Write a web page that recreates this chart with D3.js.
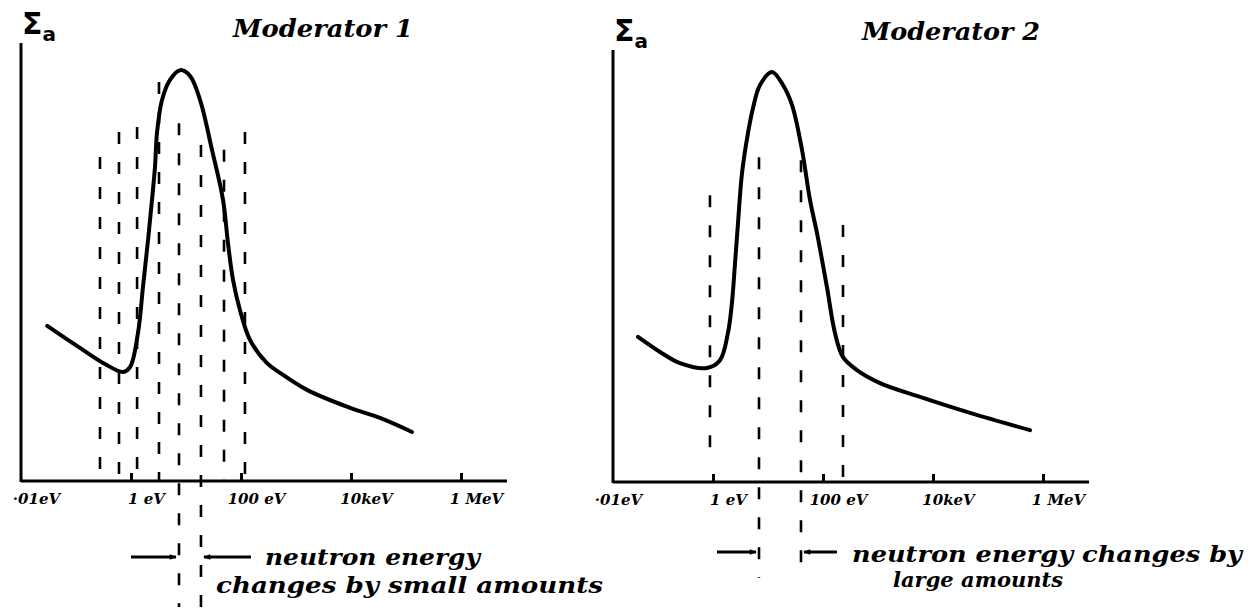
<!DOCTYPE html>
<html>
<head>
<meta charset="utf-8">
<script src="https://cdn.jsdelivr.net/npm/d3@7"></script>
<style>
  body { margin: 0; background: #fff; }
  text { fill: #000; }
</style>
</head>
<body>
<script>
// tick energies (eV) and their hand-written labels
const tickEnergies = [0.01, 1, 100, 1e4, 1e6];
const tickLabels = ['·01eV', '1 eV', '100 eV', '10keV', '1 MeV'];

// Moderator 1: absorption cross-section curve (energy in eV, sigma in arbitrary units 0..100)
const mod1Energy = [0.030, 0.118, 0.337, 0.716, 0.96, 1.34, 1.65, 2.04, 2.41, 2.73, 2.97, 3.66, 5.12, 7.78,
    11.8, 18.0, 29.7, 47.1, 58.0, 71.6, 95.9, 146, 297, 512, 1585, 9590, 33650, 128500];
const mod1Sigma = [35.4, 30.4, 26.7, 24.9, 26.0, 33.8, 44.3, 55.0, 64.2, 71.7, 79.5, 87.0, 91.6, 93.8,
    92.5, 87.0, 75.6, 64.2, 54.3, 45.9, 39.0, 32.2, 26.9, 24.7, 20.8, 16.7, 14.4, 11.2];
// Moderator 1: dashed energy steps (small changes)
const mod1DashEnergy = [0.273, 0.605, 1.29, 3.23, 7.46, 18.7, 49.1, 118];
const mod1DashTop = [74.0, 79.7, 80.8, 91.1, 81.7, 76.7, 75.6, 79.7];
const mod1DashBottom = [0, 0, 0, 0, 0, 0, 0, 0];
const mod1Marked = [4, 5];

// Moderator 2
const mod2Energy = [0.0433, 0.109, 0.251, 0.778, 1.34, 1.87, 2.21, 2.51, 2.85, 3.37, 4.33, 5.34, 7.16, 11.8,
    18.7, 27.3, 41.5, 58.0, 77.8, 118, 165, 231, 415, 1087, 5800, 47100, 580000];
const mod2Sigma = [33.6, 30.1, 27.5, 26.4, 28.2, 34.5, 41.5, 50.5, 60.0, 71.5, 80.8, 86.6, 91.9, 94.9,
    91.9, 87.3, 76.9, 65.3, 57.6, 45.1, 34.5, 28.9, 25.9, 22.9, 19.7, 16.0, 12.0];
const mod2DashEnergy = [0.88, 6.86, 39.8, 231];
const mod2DashTop = [66.4, 75.2, 74.5, 59.5];
const mod2DashBottom = [6, 0, 0, 1];
const mod2Marked = [1, 2];

const titles = ['Moderator 1', 'Moderator 2'];
const notes1 = ['neutron energy', 'changes by small amounts'];
const notes2 = ['neutron energy changes by', 'large amounts'];

const W = 1259, H = 611;
const hand = "'DejaVu Serif', serif";

const svg = d3.select('body').append('svg').attr('width', W).attr('height', H);

const defs = svg.append('defs');
defs.append('marker')
    .attr('id', 'head')
    .attr('viewBox', '0 0 10 10')
    .attr('refX', 9).attr('refY', 5)
    .attr('markerWidth', 9).attr('markerHeight', 7)
    .attr('markerUnits', 'userSpaceOnUse')
    .attr('orient', 'auto')
    .append('path').attr('d', 'M0,1 L10,5 L0,9 Z').attr('fill', '#000');

const panel = (p) => {
    const x = d3.scaleLog().domain([0.01, Math.pow(10, 6.8)]).range([p.origin, p.origin + 8.8 * 55]);
    const y = d3.scaleLinear().domain([0, 100]).range([p.base, p.top]);
    const g = svg.append('g');

    // y axis and x axis lines
    g.append('line').attr('x1', p.axisX).attr('x2', p.axisX).attr('y1', p.base + 1).attr('y2', p.top)
        .attr('stroke', '#000').attr('stroke-width', 3);
    g.append('line').attr('x1', p.axisX).attr('x2', x.range()[1] + 2).attr('y1', p.base).attr('y2', p.base)
        .attr('stroke', '#000').attr('stroke-width', 3);

    const ax = g.append('g')
        .attr('transform', `translate(0, ${p.base})`)
        .call(d3.axisBottom(x).tickValues(tickEnergies).tickFormat((d, i) => tickLabels[i])
            .tickSizeInner(-8).tickSizeOuter(0).tickPadding(12));
    ax.select('.domain').remove();
    ax.selectAll('.tick line').attr('stroke', '#000').attr('stroke-width', 3)
        .filter((d, i) => i === 0).remove();
    ax.selectAll('.tick text')
        .attr('dx', 15)
        .style('font-family', hand).style('font-style', 'italic').style('font-weight', 'bold')
        .style('font-size', '15px').attr('fill', '#000');

    // sigma label
    const sl = g.append('text').attr('x', p.axisX + 1).attr('y', p.top - 9)
        .style('font-family', "'DejaVu Sans', sans-serif").style('font-weight', 'bold').style('font-size', '30px');
    sl.append('tspan').text('Σ');
    sl.append('tspan').attr('dy', 7).style('font-size', '20px').text('a');

    // title
    g.append('text').attr('x', p.titleX).attr('y', p.titleY).text(p.title)
        .attr('textLength', p.titleW).attr('lengthAdjust', 'spacingAndGlyphs')
        .style('font-family', hand).style('font-style', 'italic').style('font-weight', 'bold').style('font-size', '25px');

    // dashed energy steps
    const dashes = p.dashE.map((e, i) => ({
        e, top: p.dashTop[i], bottom: p.dashBottom[i], marked: p.marked.includes(i)
    }));
    g.append('g').selectAll('line')
        .data(dashes)
        .join('line')
        .attr('x1', d => x(d.e)).attr('x2', d => x(d.e))
        .attr('y1', d => y(d.top))
        .attr('y2', d => d.marked ? p.base + p.drop : y(d.bottom))
        .attr('stroke', '#000').attr('stroke-width', 2.6)
        .attr('stroke-dasharray', '12,18');

    // cross-section curve
    const pts = p.energy.map((e, i) => ({ e, s: p.sigma[i] }));
    g.append('path')
        .datum(pts)
        .attr('fill', 'none')
        .attr('stroke', '#000')
        .attr('stroke-width', 4)
        .attr('stroke-linejoin', 'round')
        .attr('stroke-linecap', 'round')
        .attr('d', d3.line().curve(d3.curveCatmullRom.alpha(0.5))
            .x(d => x(d.e))
            .y(d => y(d.s)));

    // arrows pointing at the marked steps
    const xa = x(p.dashE[p.marked[0]]), xb = x(p.dashE[p.marked[1]]);
    const arrows = [[xa - p.arrowLen[0], xa - 3], [xb + p.arrowLen[1], xb + 3]];
    g.append('g').selectAll('line')
        .data(arrows)
        .join('line')
        .attr('x1', d => d[0]).attr('x2', d => d[1])
        .attr('y1', p.arrowY).attr('y2', p.arrowY)
        .attr('stroke', '#000').attr('stroke-width', 3)
        .attr('marker-end', 'url(#head)');

    // notes
    g.append('g').selectAll('text')
        .data(p.notes)
        .join('text')
        .attr('x', (d, i) => p.noteX[i])
        .attr('y', (d, i) => p.noteY[i])
        .attr('textLength', (d, i) => p.noteW[i])
        .attr('lengthAdjust', 'spacingAndGlyphs')
        .text(d => d)
        .style('font-family', hand).style('font-style', 'italic').style('font-weight', 'bold')
        .style('font-size', (d, i) => p.noteSize[i] + 'px');
};

panel({
    origin: 21, axisX: 21, base: 481, top: 43, drop: 126,
    title: titles[0], titleX: 233, titleY: 37, titleW: 180,
    energy: mod1Energy, sigma: mod1Sigma,
    dashE: mod1DashEnergy, dashTop: mod1DashTop, dashBottom: mod1DashBottom, marked: mod1Marked,
    arrowY: 557, arrowLen: [48, 50],
    notes: notes1, noteX: [265, 216], noteY: [565, 593], noteW: [215, 387], noteSize: [22, 22]
});

panel({
    origin: 603, axisX: 613, base: 482, top: 50, drop: 96,
    title: titles[1], titleX: 862, titleY: 40, titleW: 178,
    energy: mod2Energy, sigma: mod2Sigma,
    dashE: mod2DashEnergy, dashTop: mod2DashTop, dashBottom: mod2DashBottom, marked: mod2Marked,
    arrowY: 552, arrowLen: [42, 36],
    notes: notes2, noteX: [852, 893], noteY: [562, 587], noteW: [390, 170], noteSize: [22, 20]
});
</script>
</body>
</html>
